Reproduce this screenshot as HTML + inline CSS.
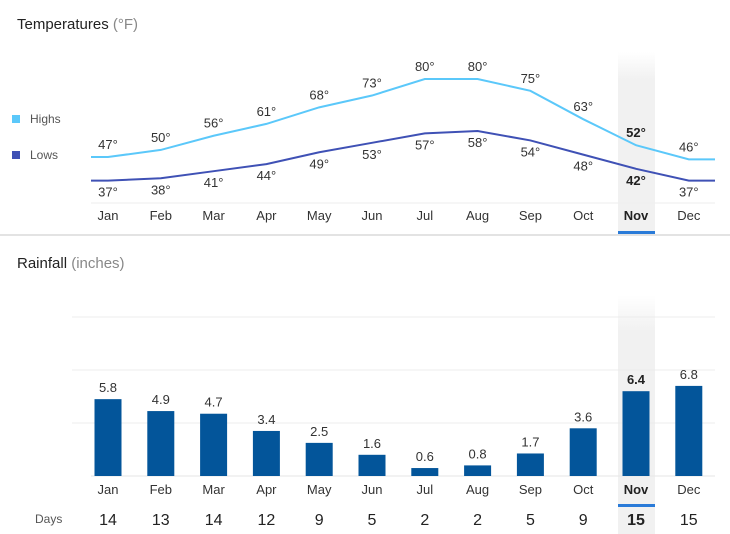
<!DOCTYPE html>
<html><head><meta charset="utf-8"><style>
body{margin:0;background:#fff;font-family:"Liberation Sans",sans-serif;}
svg{display:block}
</style></head><body>
<svg width="730" height="534" viewBox="0 0 730 534">
<defs>
<linearGradient id="hl" x1="0" y1="0" x2="0" y2="1">
<stop offset="0" stop-color="#f1f1f1" stop-opacity="0"/>
<stop offset="0.15" stop-color="#f1f1f1" stop-opacity="1"/>
<stop offset="1" stop-color="#f1f1f1"/>
</linearGradient>
</defs>
<rect x="618" y="52" width="37" height="182" fill="url(#hl)"/>
<rect x="618" y="295" width="37" height="239" fill="url(#hl)"/>
<text x="17" y="29" font-size="15" fill="#222">Temperatures <tspan fill="#888">(°F)</tspan></text>
<rect x="12" y="115" width="8" height="8" fill="#5bc8fa"/>
<text x="30" y="123" font-size="12" fill="#555">Highs</text>
<rect x="12" y="151" width="8" height="8" fill="#3f51b5"/>
<text x="30" y="159" font-size="12" fill="#555">Lows</text>
<line x1="91" y1="203" x2="715" y2="203" stroke="#eee"/>
<line x1="0" y1="235" x2="730" y2="235" stroke="#e3e3e3" stroke-width="2"/>
<rect x="618" y="231" width="37" height="3" fill="#2a7bd8"/>
<text x="17" y="268" font-size="15" fill="#222">Rainfall <tspan fill="#888">(inches)</tspan></text>
<text x="35" y="523" font-size="12" fill="#555">Days</text>
<rect x="618" y="504" width="37" height="3" fill="#2a7bd8"/>
<g id="g"></g>
</svg>
<script>
const months=["Jan","Feb","Mar","Apr","May","Jun","Jul","Aug","Sep","Oct","Nov","Dec"];
const highs=[47,50,56,61,68,73,80,80,75,63,52,46];
const lows=[37,38,41,44,49,53,57,58,54,48,42,37];
const rain=[5.8,4.9,4.7,3.4,2.5,1.6,0.6,0.8,1.7,3.6,6.4,6.8];
const days=[14,13,14,12,9,5,2,2,5,9,15,15];
const rainTicks=[0,4,8,12];
const sel=10;
const NS="http://www.w3.org/2000/svg";
const g=document.getElementById('g');
const xS=i=>108+i*52.8;
const yT=v=>157-(v-47)*2.364;
const yR=v=>476-v*13.25;
function mk(t,a,p){const e=document.createElementNS(NS,t);for(const k in a)e.setAttribute(k,a[k]);(p||g).appendChild(e);return e;}
rainTicks.forEach((t,i)=>{
 const l=mk('line',{x1:i==0?91:72,x2:715,y1:yR(t),y2:yR(t),stroke:i==0?'#e6e6e6':'#ececec'});
 
 
});
function line(arr,col,name){
 let d='M91 '+yT(arr[0]);
 arr.forEach((v,i)=>d+=' L'+xS(i)+' '+yT(v));
 d+=' L715 '+yT(arr[arr.length-1]);
 const p=mk('path',{d:d,fill:'none',stroke:col,'stroke-width':2});
 
 
}
line(highs,'#5bc8fa','highs-line');
line(lows,'#3f51b5','lows-line');
months.forEach((m,i)=>{
 const b=i==sel?'bold':'normal', c=i==sel?'#222':'#333';
 let t=mk('text',{x:xS(i),y:yT(highs[i])-8,'text-anchor':'middle','font-size':13,fill:c,'font-weight':b});t.textContent=highs[i]+'°';
 
 
 t=mk('text',{x:xS(i),y:yT(lows[i])+16,'text-anchor':'middle','font-size':13,fill:c,'font-weight':b});t.textContent=lows[i]+'°';
 
 
 t=mk('text',{x:xS(i),y:220,'text-anchor':'middle','font-size':13,fill:c,'font-weight':b});t.textContent=m;
 
 
 const r=mk('rect',{x:xS(i)-13.5,y:yR(rain[i]),width:27,height:476-yR(rain[i]),fill:'#03559a'});
 
 
 t=mk('text',{x:xS(i),y:yR(rain[i])-7,'text-anchor':'middle','font-size':13,fill:c,'font-weight':b});t.textContent=rain[i].toFixed(1);
 
 
 t=mk('text',{x:xS(i),y:494,'text-anchor':'middle','font-size':13,fill:c,'font-weight':b});t.textContent=m;
 
 
 t=mk('text',{x:xS(i),y:525,'text-anchor':'middle','font-size':16,fill:'#222','font-weight':b});t.textContent=days[i];
 
 
});
</script>
</body></html>
